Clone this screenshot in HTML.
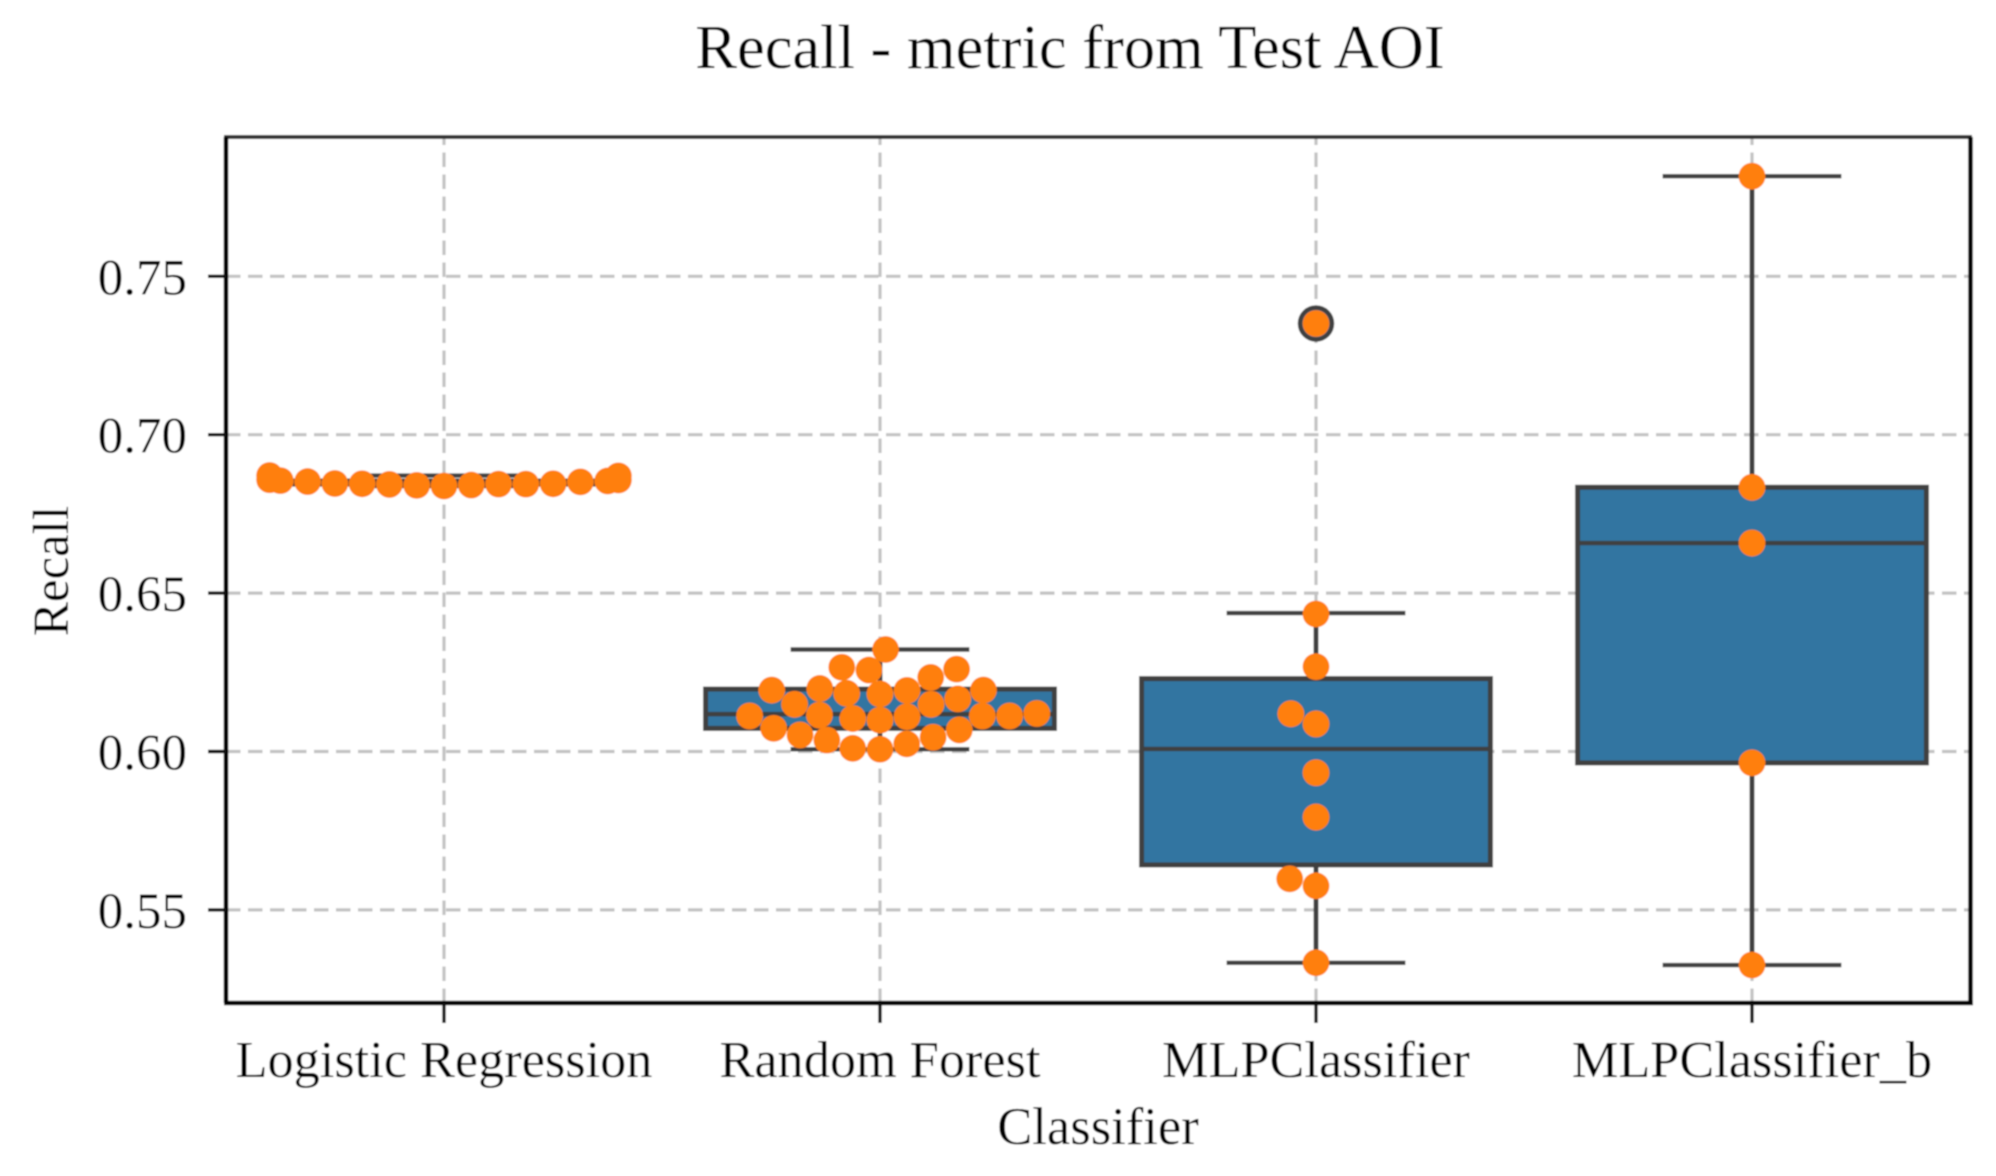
<!DOCTYPE html>
<html lang="en">
<head>
<meta charset="utf-8">
<title>Recall - metric from Test AOI</title>
<style>
  html, body { margin: 0; padding: 0; background: #ffffff; }
  svg { display: block; }
  text { font-family: "Liberation Serif", "Times New Roman", serif; fill: #000000; }
</style>
</head>
<body>
<svg id="chart" xmlns="http://www.w3.org/2000/svg" width="1996" height="1176" viewBox="0 0 1996 1176">
  <defs>
    <filter id="soften" x="0" y="0" width="100%" height="100%" filterUnits="objectBoundingBox">
      <feGaussianBlur stdDeviation="0.8"/>
    </filter>
  </defs>
  <rect x="0" y="0" width="1996" height="1176" fill="#ffffff"/>
  <g id="root" filter="url(#soften)">
    <rect x="0" y="0" width="1996" height="1176" fill="#ffffff"/>
    <g id="grid"></g>
    <g id="boxes"></g>
    <g id="dots"></g>
    <g id="frame"></g>
    <g id="ticks"></g>
    <text x="1070" y="68" font-size="62.5" text-anchor="middle">Recall - metric from Test AOI</text>
    <text x="1098" y="1144" font-size="52.6" text-anchor="middle">Classifier</text>
    <text x="68" y="571" font-size="51" text-anchor="middle" transform="rotate(-90 68 571)">Recall</text>
  </g>
</svg>
<script>
// ---- Data ----
const categories = ["Logistic Regression", "Random Forest", "MLPClassifier", "MLPClassifier_b"];
const yTicks = [0.55, 0.60, 0.65, 0.70, 0.75];
const yTickLabels = ["0.55", "0.60", "0.65", "0.70", "0.75"];

const q1Values = [0.6844, 0.6073, 0.5642, 0.5964];
const medianValues = [0.6846, 0.6118, 0.6008, 0.6658];
const q3Values = [0.6854, 0.6197, 0.6230, 0.6834];
const whiskerLowValues = [0.6838, 0.6007, 0.5333, 0.5326];
const whiskerHighValues = [0.6871, 0.6322, 0.6437, 0.7816];
const outlierValues = [[], [], [0.7351], []];

const logisticRecall = [0.6838, 0.6840, 0.6841, 0.6843, 0.6844, 0.6844, 0.6845, 0.6845, 0.6846, 0.6851, 0.6852, 0.6854, 0.6855, 0.6857, 0.6858, 0.6870, 0.6871];
const forestRecall = [0.6007, 0.6010, 0.6024, 0.6036, 0.6045, 0.6052, 0.6068, 0.6073, 0.6099, 0.6104, 0.6110, 0.6112, 0.6112, 0.6112, 0.6115, 0.6120, 0.6149, 0.6149, 0.6166, 0.6182, 0.6184, 0.6193, 0.6194, 0.6194, 0.6199, 0.6234, 0.6257, 0.6260, 0.6266, 0.6322];
const mlpRecall = [0.5333, 0.5576, 0.5598, 0.5793, 0.5933, 0.6087, 0.6119, 0.6268, 0.6434, 0.7351];
const mlpBRecall = [0.5326, 0.5964, 0.6658, 0.6834, 0.7816];
const seriesRecall = [logisticRecall, forestRecall, mlpRecall, mlpBRecall];

// ---- Axis functions ----
const plot = { left: 226, right: 1970, top: 137, bottom: 1003 };
const xBand = (plot.right - plot.left) / categories.length;
function xScale(i) { return plot.left + xBand * (i + 0.5); }
function yScale(v) { return 751.5 - (v - 0.6) * 3168; }

const SVG_NS = "http://www.w3.org/2000/svg";
function make(parent, tag, attrs, text) {
  const el = document.createElementNS(SVG_NS, tag);
  for (const k in attrs) el.setAttribute(k, attrs[k]);
  if (text !== undefined) el.textContent = text;
  parent.appendChild(el);
  return el;
}

const gridG = document.getElementById("grid");
const boxesG = document.getElementById("boxes");
const dotsG = document.getElementById("dots");
const frameG = document.getElementById("frame");
const ticksG = document.getElementById("ticks");
const gridStyle = { stroke: "#c2c2c2", "stroke-width": 3.2, "stroke-dasharray": "14.5 7.5", fill: "none" };
const lineColor = "#3f3f3f";
const tickColor = "#111111";

// ---- Grid ----
yTicks.forEach(function (t) {
  const y = yScale(t);
  const line = make(gridG, "line", Object.assign({ x1: plot.left, y1: y, x2: plot.right, y2: y }, gridStyle));
  
  
});
categories.forEach(function (c, i) {
  const x = xScale(i);
  const line = make(gridG, "line", Object.assign({ x1: x, y1: plot.bottom, x2: x, y2: plot.top }, gridStyle));
  
  
});

// ---- Box plots ----
const boxHalf = xBand * 0.4;
const capHalf = xBand * 0.205;
categories.forEach(function (c, i) {
  const x = xScale(i);
  const g = make(boxesG, "g", {});
  
  

  const wl = make(g, "line", { x1: x, y1: yScale(q1Values[i]), x2: x, y2: yScale(whiskerLowValues[i]), stroke: lineColor, "stroke-width": 5 });
  
  

  const wh = make(g, "line", { x1: x, y1: yScale(q3Values[i]), x2: x, y2: yScale(whiskerHighValues[i]), stroke: lineColor, "stroke-width": 5 });
  
  

  const cl = make(g, "line", { x1: x - capHalf, y1: yScale(whiskerLowValues[i]), x2: x + capHalf, y2: yScale(whiskerLowValues[i]), stroke: lineColor, "stroke-width": 4.4 });
  
  

  const ch = make(g, "line", { x1: x - capHalf, y1: yScale(whiskerHighValues[i]), x2: x + capHalf, y2: yScale(whiskerHighValues[i]), stroke: lineColor, "stroke-width": 4.4 });
  
  

  const box = make(g, "rect", {
    x: x - boxHalf, y: yScale(q3Values[i]),
    width: boxHalf * 2, height: yScale(q1Values[i]) - yScale(q3Values[i]),
    fill: "#3274a1", stroke: lineColor, "stroke-width": 5
  });
  
  

  const med = make(g, "line", { x1: x - boxHalf, y1: yScale(medianValues[i]), x2: x + boxHalf, y2: yScale(medianValues[i]), stroke: lineColor, "stroke-width": 4.4 });
  
  

  outlierValues[i].forEach(function (v) {
    const o = make(g, "circle", { cx: x, cy: yScale(v), r: 16, fill: "#3274a1", stroke: lineColor, "stroke-width": 4.5 });
    
    
  });
});

// ---- Swarm points (same layout rule as a seaborn swarm plot) ----
const dotRadius = 13;
const dotDrawRadius = 13.4;
function swarm(values, center) {
  const d = dotRadius * 2;
  const ordered = values.slice().sort(function (a, b) { return a - b; });
  const placed = [];
  ordered.forEach(function (v) {
    const y = yScale(v);
    const near = placed.filter(function (p) { return Math.abs(p.y - y) < d; });
    const candidates = [center];
    near.forEach(function (p) {
      const dy = p.y - y;
      const dx = Math.sqrt(d * d - dy * dy) * 1.05;
      candidates.push(p.x - dx, p.x + dx);
    });
    const ranked = candidates
      .map(function (cx, idx) { return { cx: cx, idx: idx }; })
      .sort(function (a, b) {
        const diff = Math.abs(a.cx - center) - Math.abs(b.cx - center);
        return Math.abs(diff) > 1e-9 ? diff : a.idx - b.idx;
      });
    let chosen = ranked[ranked.length - 1].cx;
    for (const cand of ranked) {
      const clash = near.some(function (p) {
        const ddx = p.x - cand.cx, ddy = p.y - y;
        return Math.sqrt(ddx * ddx + ddy * ddy) < d - 1e-6;
      });
      if (!clash) { chosen = cand.cx; break; }
    }
    placed.push({ x: chosen, y: y });
  });
  // points that run past the band are clamped to the gutter
  const limit = xBand * 0.4;
  placed.forEach(function (p) {
    p.x = Math.max(center - limit, Math.min(center + limit, p.x));
  });
  return placed;
}

seriesRecall.forEach(function (values, i) {
  const g = make(dotsG, "g", {});
  
  
  swarm(values, xScale(i)).forEach(function (p) {
    const dot = make(g, "circle", { cx: p.x, cy: p.y, r: dotDrawRadius, fill: "#ff7f0e" });
    
    
  });
});

// ---- Frame ----
const spineTop = make(frameG, "line", { x1: plot.left - 2, y1: plot.top, x2: plot.right + 2, y2: plot.top, stroke: "#333333", "stroke-width": 4 });


const spineRight = make(frameG, "line", { x1: plot.right + 0.5, y1: plot.top, x2: plot.right + 0.5, y2: plot.bottom, stroke: "#000000", "stroke-width": 4.6 });


const spineLeft = make(frameG, "line", { x1: plot.left, y1: plot.top, x2: plot.left, y2: plot.bottom, stroke: "#000000", "stroke-width": 4.6 });


const spineBottom = make(frameG, "line", { x1: plot.left - 2, y1: plot.bottom, x2: plot.right + 3, y2: plot.bottom, stroke: "#000000", "stroke-width": 4.6 });



// ---- Ticks and tick labels ----
yTicks.forEach(function (t, i) {
  const y = yScale(t);
  const mark = make(ticksG, "line", { x1: 208, y1: y, x2: plot.left, y2: y, stroke: tickColor, "stroke-width": 3.4 });
  
  
  const label = make(ticksG, "text", { x: 187, y: y + 18, "font-size": 51, "text-anchor": "end" }, yTickLabels[i]);
  
  
});
categories.forEach(function (c, i) {
  const x = xScale(i);
  const mark = make(ticksG, "line", { x1: x, y1: plot.bottom, x2: x, y2: 1023, stroke: tickColor, "stroke-width": 3.4 });
  
  
  const label = make(ticksG, "text", { x: x, y: 1077, "font-size": 52.3, "text-anchor": "middle" }, c);
  
  
});
</script>
</body>
</html>
